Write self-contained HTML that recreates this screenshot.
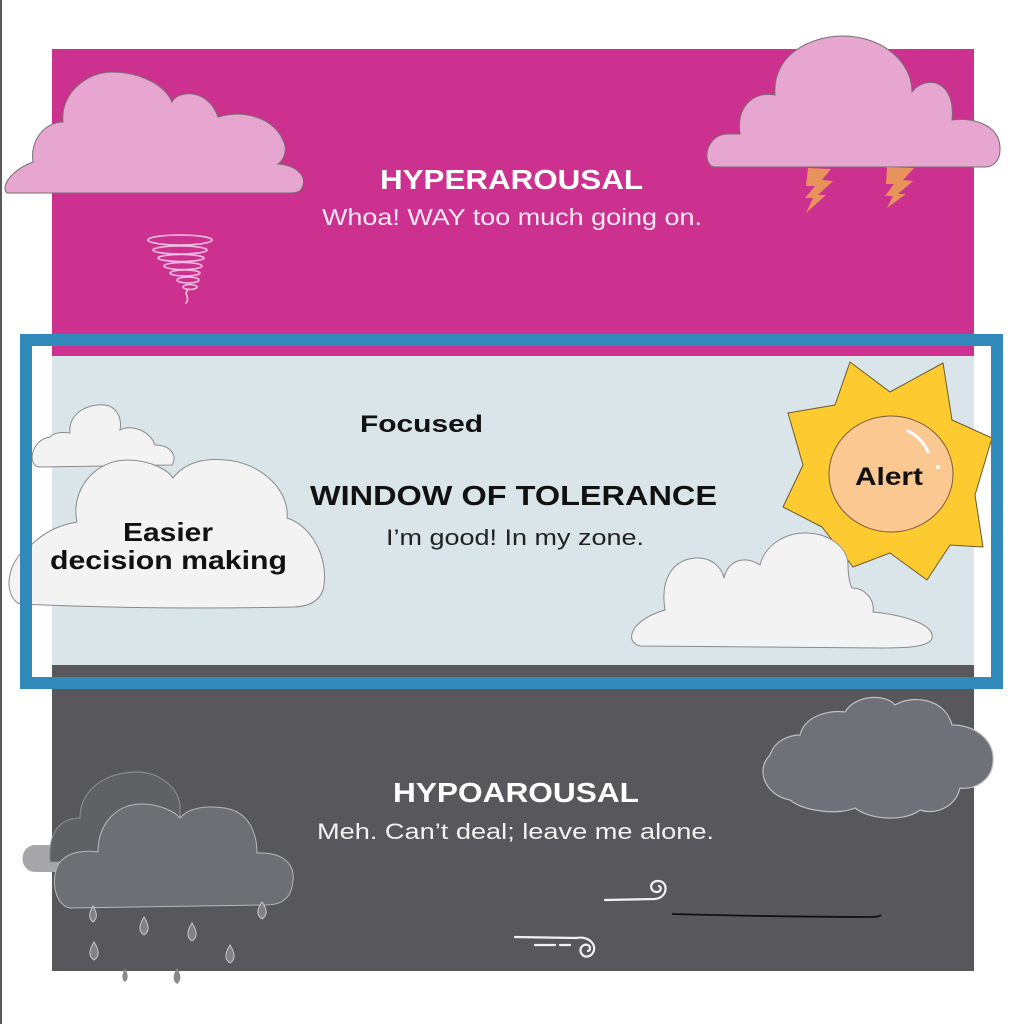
<!DOCTYPE html>
<html>
<head>
<meta charset="utf-8">
<style>
html,body{margin:0;padding:0;background:#fff;}
svg{display:block;}
text{font-family:"Liberation Sans",Arial,sans-serif;}
</style>
</head>
<body>
<svg width="1024" height="1024" viewBox="0 0 1024 1024" xmlns="http://www.w3.org/2000/svg">
  <rect x="0" y="0" width="1024" height="1024" fill="#ffffff"/>
  <rect x="0" y="0" width="2" height="1024" fill="#5a5a5a"/>

  <!-- bands -->
  <rect x="52" y="49" width="922" height="308" fill="#cd3190"/>
  <rect x="52" y="356" width="922" height="310" fill="#d9e5e8"/>
  <rect x="52" y="665" width="922" height="306" fill="#58585c"/>

  <!-- top-left pink cloud -->
  <path d="M7,193 C0,186 12,170 33,162 C30,140 45,122 63,122 C60,95 85,72 112,72 C140,72 165,85 172,102 C178,90 208,88 218,117 C242,110 272,116 283,140 C288,150 284,160 278,164 C295,165 306,175 303,185 C302,192 296,193 290,193 Z" fill="#e6a6d0" stroke="#7a6a74" stroke-width="1"/>

  <!-- tornado -->
  <g fill="none" stroke="#f3bfe0" stroke-width="1.6" stroke-linecap="round">
    <ellipse cx="180" cy="240" rx="32" ry="5"/>
    <ellipse cx="180" cy="250" rx="27" ry="4"/>
    <ellipse cx="181" cy="258" rx="23" ry="3.5"/>
    <ellipse cx="183" cy="266" rx="19" ry="3.5"/>
    <ellipse cx="185" cy="273" rx="15" ry="3"/>
    <ellipse cx="188" cy="280" rx="11" ry="3"/>
    <ellipse cx="190" cy="287" rx="7" ry="2.5"/>
    <path d="M189,289 C182,294 191,297 186,303"/>
  </g>

  <!-- top-right pink cloud -->
  <path d="M715,167 C702,167 704,136 726,134 L740,134 C736,105 755,91 775,95 C772,55 810,36 843,36 C880,36 912,60 912,92 C926,74 956,80 952,120 C975,117 1001,126 1000,150 C1000,162 992,167 985,167 Z" fill="#e6a6d0" stroke="#7a6a74" stroke-width="1"/>
  <!-- lightning -->
  <polygon points="808,168 831,169 822,180 833,181 818,195 826,195 806,213 813,198 805,198 815,186 806,186" fill="#e8935c"/>
  <polygon points="887,167 914,168 903,180 913,181 898,194 906,194 887,208 893,196 885,196 894,184 886,184" fill="#e8935c"/>

  <!-- light band clouds -->
  <path d="M40,467 C27,467 30,440 50,437 C55,432 62,432 70,433 C68,412 90,403 105,405 C118,407 122,420 120,430 C130,424 150,430 155,445 C170,445 178,455 172,465 Z" fill="#f3f3f3" stroke="#8a8a8a" stroke-width="1"/>
  <path d="M20,604 C4,598 4,562 30,546 C45,531 60,525 77,522 C70,490 95,460 127,460 C150,460 168,470 173,478 C185,462 205,458 225,460 C260,462 290,490 287,518 C310,525 328,555 324,585 C322,600 310,606 295,607 C200,609 110,608 20,604 Z" fill="#f3f3f3" stroke="#8a8a8a" stroke-width="1"/>

  <!-- sun -->
  <polygon points="850,362 890,392 943,363 952,420 992,438 975,495 983,547 950,545 927,580 890,553 853,567 822,527 783,507 803,465 788,413 835,405" fill="#fdcb2f" stroke="#6a5a30" stroke-width="1" stroke-linejoin="round"/>
  <ellipse cx="891" cy="474" rx="62" ry="58" fill="#fbc891" stroke="#7a5a40" stroke-width="1"/>
  <path d="M908,431 C918,436 925,444 928,452" fill="none" stroke="#fff" stroke-width="3" stroke-linecap="round"/>
  <circle cx="938" cy="467" r="2" fill="#fff"/>

  <path d="M640,646 C624,642 630,620 665,610 C660,580 672,560 695,558 C712,557 722,568 724,578 C728,560 745,555 760,565 C765,545 785,533 805,533 C830,533 848,548 848,565 C848,575 850,585 852,588 C865,588 875,600 873,612 C905,615 935,625 932,638 C930,648 900,648 880,648 Z" fill="#f3f3f3" stroke="#8a8a8a" stroke-width="1"/>

  <!-- gray band elements -->
  <path d="M36,845 L60,845 L60,872 L36,872 C18,872 18,845 36,845 Z" fill="#a6a6a8"/>
  <path d="M50,862 C48,835 58,818 80,818 C80,790 105,772 137,772 C160,772 178,788 180,805 L180,862 Z" fill="#606165" stroke="#909195" stroke-width="1"/>
  <path d="M70,908 C52,905 50,870 62,860 C70,852 85,850 98,852 C98,825 115,804 142,804 C160,804 175,812 180,818 C190,806 210,806 225,808 C250,812 257,835 257,853 C280,852 295,862 293,880 C292,900 280,905 265,905 Z" fill="#6e6f74" stroke="#b8b8bc" stroke-width="1"/>

  <!-- raindrops -->
  <g fill="#818186" stroke="#c8c8cc" stroke-width="1">
    <path d="M93,906 C97,913 98,918 93,922 C88,918 89,913 93,906 Z"/>
    <path d="M144,917 C149,925 150,931 144,935 C138,931 139,925 144,917 Z"/>
    <path d="M192,923 C197,931 198,937 192,941 C186,937 187,931 192,923 Z"/>
    <path d="M262,902 C267,909 268,915 262,919 C256,915 257,909 262,902 Z"/>
    <path d="M94,942 C99,950 100,956 94,960 C88,956 89,950 94,942 Z"/>
    <path d="M230,945 C235,953 236,959 230,963 C224,959 225,953 230,945 Z"/>
  </g>
  <g fill="#8a8a8e">
    <path d="M125,968 C128,974 129,979 125,982 C121,979 122,974 125,968 Z"/>
    <path d="M177,968 C181,975 182,980 177,984 C172,980 173,975 177,968 Z"/>
  </g>

  <path d="M790,800 C765,795 755,770 770,755 C775,740 790,735 800,735 C805,715 830,710 845,712 C855,695 885,693 895,705 C910,695 945,697 952,725 C975,725 995,740 993,762 C992,780 975,790 960,788 C955,808 935,815 920,810 C905,822 870,820 855,808 C840,815 805,812 790,800 Z" fill="#707178" stroke="#c0c0c4" stroke-width="1.2"/>

  <!-- wind -->
  <g fill="none" stroke="#f2f2f2" stroke-width="2.2" stroke-linecap="round">
    <path d="M605,900 L655,899 C668,898 669,881 658,881 C649,881 649,892 657,892 C661,892 662,887 659,886"/>
    <path d="M515,937 L576,938 C591,935 599,948 591,955 C583,961 576,949 584,945 C590,943 592,950 588,951"/>
    <path d="M535,945 L555,945 M560,945 L570,945"/>
  </g>
  <path d="M672,914 C750,916 830,917 870,917 C876,917 880,916 881,915" fill="none" stroke="#111" stroke-width="1.8"/>

  <!-- frame -->
  <rect x="26" y="340" width="971" height="343" fill="none" stroke="#3089b8" stroke-width="12"/>

  <!-- text -->
  <text x="380" y="189" font-size="28" font-weight="bold" fill="#ffffff" textLength="263" lengthAdjust="spacingAndGlyphs">HYPERAROUSAL</text>
  <text x="322" y="225" font-size="23" fill="#fdeaf5" textLength="380" lengthAdjust="spacingAndGlyphs">Whoa! WAY too much going on.</text>

  <text x="360" y="432" font-size="24" font-weight="bold" fill="#111" textLength="123" lengthAdjust="spacingAndGlyphs">Focused</text>
  <text x="310" y="505" font-size="28" font-weight="bold" fill="#111" textLength="407" lengthAdjust="spacingAndGlyphs">WINDOW OF TOLERANCE</text>
  <text x="386" y="545" font-size="22" fill="#222" textLength="258" lengthAdjust="spacingAndGlyphs">I’m good! In my zone.</text>

  <text x="123" y="541" font-size="26" font-weight="bold" fill="#111" textLength="90" lengthAdjust="spacingAndGlyphs">Easier</text>
  <text x="50" y="569" font-size="26" font-weight="bold" fill="#111" textLength="237" lengthAdjust="spacingAndGlyphs">decision making</text>

  <text x="855" y="485" font-size="25" font-weight="bold" fill="#111" textLength="68" lengthAdjust="spacingAndGlyphs">Alert</text>

  <text x="393" y="802" font-size="28" font-weight="bold" fill="#ffffff" textLength="246" lengthAdjust="spacingAndGlyphs">HYPOAROUSAL</text>
  <text x="317" y="839" font-size="22" fill="#f2f2f2" textLength="397" lengthAdjust="spacingAndGlyphs">Meh. Can’t deal; leave me alone.</text>
</svg>
</body>
</html>
